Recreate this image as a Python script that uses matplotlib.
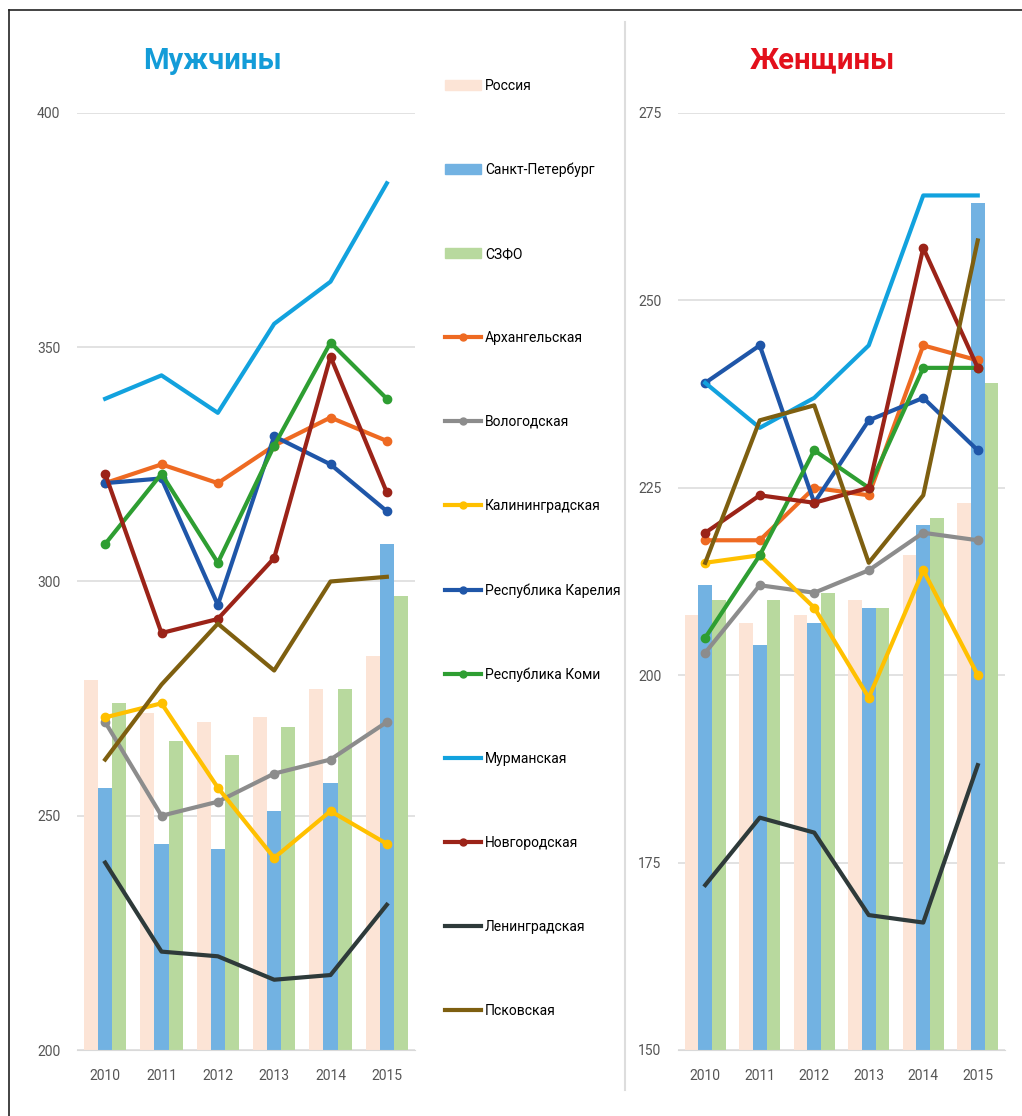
import matplotlib.pyplot as plt
from matplotlib.lines import Line2D
from matplotlib.patches import Patch

plt.rcParams['font.family'] = ['Roboto', 'DejaVu Sans']

years = ['2010', '2011', '2012', '2013', '2014', '2015']

# мужчины
m_russia = [279, 272, 270, 271, 277, 284]
m_spb = [256, 244, 243, 251, 257, 308]
m_szfo = [274, 266, 263, 269, 277, 297]
m_arkh = [321, 325, 321, 329, 335, 330]
m_volog = [270, 250, 253, 259, 262, 270]
m_kalin = [271, 274, 256, 241, 251, 244]
m_karel = [321, 322, 295, 331, 325, 315]
m_komi = [308, 323, 304, 329, 351, 339]
m_murm = [339, 344, 336, 355, 364, 385]
m_novg = [323, 289, 292, 305, 348, 319]
m_lenin = [240, 221, 220, 215, 216, 231]
m_pskov = [262, 278, 291, 281, 300, 301]

# женщины
w_russia = [208, 207, 208, 210, 216, 223]
w_spb = [212, 204, 207, 209, 220, 263]
w_szfo = [210, 210, 211, 209, 221, 239]
w_arkh = [218, 218, 225, 224, 244, 242]
w_volog = [203, 212, 211, 214, 219, 218]
w_kalin = [215, 216, 209, 197, 214, 200]
w_karel = [239, 244, 223, 234, 237, 230]
w_komi = [205, 216, 230, 225, 241, 241]
w_murm = [239, 233, 237, 244, 264, 264]
w_novg = [219, 224, 223, 225, 257, 241]
w_lenin = [172, 181, 179, 168, 167, 188]
w_pskov = [215, 234, 236, 215, 224, 258]

bar_names = ['Россия', 'Санкт-Петербург', 'СЗФО']
bar_colors = ['#FCE4D6', '#72B2E2', '#B8D99E']
line_names = ['Архангельская', 'Вологодская', 'Калининградская', 'Республика Карелия',
              'Республика Коми', 'Мурманская', 'Новгородская', 'Ленинградская', 'Псковская']
line_colors = ['#EE6A22', '#8C8C8C', '#FFC000', '#1F56A8', '#2E9E32',
               '#12A2DE', '#9B2318', '#2E3A3A', '#7E5F10']
line_markers = ['o', 'o', 'o', 'o', 'o', None, 'o', None, None]

men_bars = [m_russia, m_spb, m_szfo]
men_lines = [m_arkh, m_volog, m_kalin, m_karel, m_komi, m_murm, m_novg, m_lenin, m_pskov]
women_bars = [w_russia, w_spb, w_szfo]
women_lines = [w_arkh, w_volog, w_kalin, w_karel, w_komi, w_murm, w_novg, w_lenin, w_pskov]

W, H = 1022, 1116
fig = plt.figure(figsize=(W / 100, H / 100), dpi=100)


def draw(ax, bars, lines, ylim, ticks, title, tcolor, tx):
    x = range(len(years))
    w = 0.25
    for i, (vals, c) in enumerate(zip(bars, bar_colors)):
        ax.bar([k + (i - 1) * w for k in x], [v - ylim[0] for v in vals], w,
               bottom=ylim[0], color=c, zorder=2)
    for vals, c, mk in zip(lines, line_colors, line_markers):
        ax.plot(list(x), vals, color=c, lw=3, marker=mk, ms=6, zorder=3,
                solid_joinstyle='round')
    ax.set_ylim(*ylim)
    ax.set_xlim(-0.5, 5.5)
    ax.set_yticks(ticks)
    ax.set_xticks(list(x))
    ax.set_xticklabels(years)
    ax.grid(axis='y', color='#DDDDDD', lw=1.2, zorder=0)
    for s in ['top', 'right', 'left']:
        ax.spines[s].set_visible(False)
    ax.spines['bottom'].set_color('#D9D9D9')
    ax.tick_params(length=0, labelsize=10, labelcolor='#555555')
    ax.tick_params(axis='x', pad=14)
    ax.tick_params(axis='y', pad=12)
    ax.set_title(title, color=tcolor, fontsize=21, fontweight='bold', pad=32, x=tx)


axl = fig.add_axes([77 / W, 1 - 1050 / H, 338 / W, 937 / H])
draw(axl, men_bars, men_lines, (200, 400), [200, 250, 300, 350, 400],
     'Мужчины', '#139CD8', 0.40)
axr = fig.add_axes([678 / W, 1 - 1050 / H, 327 / W, 937 / H])
draw(axr, women_bars, women_lines, (150, 275), [150, 175, 200, 225, 250, 275],
     'Женщины', '#E3101C', 0.44)

handles = [Patch(color=c) for c in bar_colors]
handles += [Line2D([], [], color=c, lw=3, marker=mk, ms=5)
            for c, mk in zip(line_colors, line_markers)]
fig.legend(handles, bar_names + line_names, loc='upper left',
           bbox_to_anchor=(432 / W, 1 - 66 / H), frameon=False, fontsize=10,
           labelspacing=5.04, handlelength=2.6, handletextpad=0.3)

# рамка и разделитель
fig.add_artist(Line2D([9 / W, 9 / W], [0, 1 - 10 / H], color='#222222', lw=1.2))
fig.add_artist(Line2D([9 / W, 1], [1 - 10 / H, 1 - 10 / H], color='#222222', lw=1.2))
fig.add_artist(Line2D([625 / W, 625 / W], [1 - 1090 / H, 1 - 22 / H], color='#DDDDDD', lw=1.5))

plt.savefig('out.png', dpi=100)
